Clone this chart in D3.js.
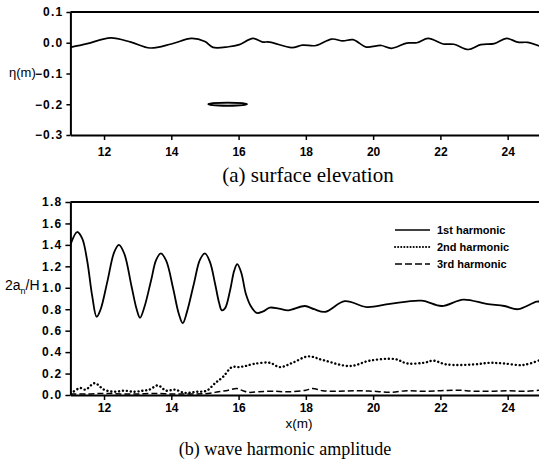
<!DOCTYPE html>
<html><head><meta charset="utf-8">
<script src="https://cdn.jsdelivr.net/npm/d3@7"></script>
<style>
html,body{margin:0;padding:0;background:#fff;}
svg{display:block;}
</style></head>
<body>
<svg id="c" width="539" height="469"></svg>
<script>
// ---- data ----
const xTicks = [12, 14, 16, 18, 20, 22, 24];
const etaTicks = [0.1, 0.0, -0.1, -0.2, -0.3];
const ampTicks = [0.0, 0.2, 0.4, 0.6, 0.8, 1.0, 1.2, 1.4, 1.6, 1.8];

const surfX = [11, 11.5, 12.2, 12.8, 13.37, 14.0, 14.6, 15.0, 15.24, 15.7, 16.0, 16.43, 16.7, 16.93, 17.58, 17.9, 18.3, 18.77, 19.1, 19.4, 19.8, 20.1, 20.25, 20.55, 21.0, 21.3, 21.64, 22.08, 22.4, 22.83, 23.2, 23.6, 23.97, 24.3, 24.6, 25];
const surfY = [-0.015, -0.003, 0.016, 0.002, -0.017, -0.004, 0.014, 0.004, -0.015, -0.013, -0.007, 0.014, 0.003, 0.002, -0.016, -0.008, -0.009, 0.012, 0.006, 0.010, -0.014, -0.010, -0.009, -0.018, -0.001, 0.000, 0.014, -0.004, -0.005, -0.022, -0.006, -0.003, 0.014, 0.002, 0.001, -0.013];

// submerged body (ellipse) : x extent and depth
const bodyX = [15.1, 16.25];
const bodyDepth = -0.2;
const bodyHalfThick = 0.005;

const h1X = [11, 11.2, 11.35, 11.5, 11.65, 11.78, 11.9, 12.1, 12.3, 12.44, 12.6, 12.82, 12.97, 13.07, 13.2, 13.4, 13.55, 13.69, 13.85, 14.05, 14.22, 14.34, 14.47, 14.68, 14.85, 15.0, 15.15, 15.3, 15.42, 15.5, 15.6, 15.75, 15.87, 15.96, 16.08, 16.22, 16.38, 16.54, 16.73, 16.93, 17.2, 17.48, 17.97, 18.25, 18.57, 19.16, 19.81, 20.5, 21.44, 22.04, 22.68, 23.37, 23.9, 24.31, 24.86, 25];
const h1Y = [1.40, 1.52, 1.46, 1.25, 0.92, 0.73, 0.80, 1.06, 1.33, 1.40, 1.32, 1.01, 0.80, 0.72, 0.82, 1.07, 1.26, 1.32, 1.25, 1.00, 0.76, 0.67, 0.78, 1.05, 1.26, 1.32, 1.24, 1.04, 0.86, 0.79, 0.81, 0.98, 1.16, 1.22, 1.14, 0.94, 0.82, 0.765, 0.78, 0.815, 0.805, 0.79, 0.83, 0.80, 0.775, 0.875, 0.82, 0.85, 0.88, 0.83, 0.89, 0.85, 0.83, 0.80, 0.87, 0.87];

const h2X = [11, 11.08, 11.29, 11.45, 11.72, 12.0, 12.3, 12.6, 12.9, 13.15, 13.35, 13.6, 13.85, 14.1, 14.4, 14.75, 15.05, 15.3, 15.54, 15.8, 16.0, 16.2, 16.45, 16.93, 17.23, 17.6, 18.07, 18.52, 19.31, 19.9, 20.65, 21.0, 21.5, 21.79, 22.18, 23.0, 23.47, 23.86, 24.46, 25];
const h2Y = [0.02, 0.03, 0.065, 0.05, 0.11, 0.05, 0.03, 0.04, 0.03, 0.04, 0.05, 0.09, 0.04, 0.05, 0.02, 0.03, 0.04, 0.11, 0.17, 0.26, 0.26, 0.27, 0.29, 0.30, 0.26, 0.30, 0.36, 0.325, 0.27, 0.32, 0.335, 0.295, 0.30, 0.32, 0.285, 0.285, 0.30, 0.295, 0.28, 0.33];

const h3X = [11, 11.5, 12, 12.5, 13, 13.5, 14, 14.5, 15, 15.4, 15.7, 15.95, 16.13, 16.3, 16.6, 17.0, 17.5, 18.0, 18.2, 18.5, 19.0, 19.5, 20.0, 20.5, 21.0, 21.5, 22.0, 22.5, 23.0, 23.5, 24.0, 24.5, 25];
const h3Y = [0.01, 0.01, 0.015, 0.01, 0.01, 0.015, 0.01, 0.01, 0.012, 0.03, 0.045, 0.06, 0.04, 0.025, 0.03, 0.035, 0.03, 0.045, 0.06, 0.04, 0.035, 0.04, 0.035, 0.025, 0.04, 0.035, 0.04, 0.045, 0.035, 0.035, 0.04, 0.035, 0.045];

const legendLabels = ["1st harmonic", "2nd harmonic", "3rd harmonic"];

// ---- drawing ----
const svg = d3.select("#c");
svg.append("rect").attr("width", 539).attr("height", 469).attr("fill", "#fff");

const FONT = "'Liberation Sans', Arial, sans-serif";
const SERIF = "'Liberation Serif', 'Times New Roman', serif";

const x = d3.scaleLinear().domain([11, 25]).range([70.4, 541.3]);
const yTop = d3.scaleLinear().domain([-0.3, 0.1]).range([135, 12]);
const yBot = d3.scaleLinear().domain([0, 1.8]).range([395, 202]);

const defs = svg.append("defs");
defs.append("clipPath").attr("id", "clipTop").append("rect")
  .attr("x", 70).attr("y", 0).attr("width", 480).attr("height", 140);
defs.append("clipPath").attr("id", "clipBot").append("rect")
  .attr("x", 70).attr("y", 190).attr("width", 480).attr("height", 206);

function styleAxis(g) {
  g.select(".domain").attr("stroke", "#000").attr("stroke-width", 2);
  g.selectAll(".tick line").attr("stroke", "#000").attr("stroke-width", 1.5);
  g.selectAll(".tick text").attr("fill", "#000")
    .attr("font-family", FONT).attr("font-weight", "bold").attr("font-size", 12);
}

// ===== top panel =====
const gxTop = svg.append("g").attr("transform", `translate(0,${yTop(-0.3)})`)
  .call(d3.axisBottom(x).tickValues(xTicks).tickFormat(d3.format("d")).tickSize(5).tickSizeOuter(0).tickPadding(7));
styleAxis(gxTop);
const gyTop = svg.append("g").attr("transform", `translate(${x(11)},0)`)
  .call(d3.axisLeft(yTop).tickValues(etaTicks).tickFormat(d3.format(".1f")).tickSize(4).tickSizeOuter(0).tickPadding(3));
styleAxis(gyTop);
gyTop.selectAll(".tick text").attr("letter-spacing", 1.2);
svg.append("line").attr("x1", x(11)).attr("x2", x(25)).attr("y1", yTop(0.1)).attr("y2", yTop(0.1))
  .attr("stroke", "#000").attr("stroke-width", 2);

const lineTop = d3.line().x(d => x(d[0])).y(d => yTop(d[1])).curve(d3.curveCatmullRom.alpha(0.5));
svg.append("path").attr("clip-path", "url(#clipTop)")
  .attr("d", lineTop(surfX.map((v, i) => [v, surfY[i]])))
  .attr("fill", "none").attr("stroke", "#000").attr("stroke-width", 1.7);

svg.append("ellipse")
  .attr("cx", x((bodyX[0] + bodyX[1]) / 2)).attr("cy", yTop(bodyDepth))
  .attr("rx", (x(bodyX[1]) - x(bodyX[0])) / 2)
  .attr("ry", yTop(bodyDepth - bodyHalfThick) - yTop(bodyDepth))
  .attr("fill", "#bbb").attr("stroke", "#000").attr("stroke-width", 1.8);

svg.append("text").attr("x", 9).attr("y", 77).attr("font-family", FONT)
  .attr("font-size", 13).text("η(m)");

svg.append("text").attr("x", 308).attr("y", 182).attr("text-anchor", "middle")
  .attr("font-family", SERIF).attr("font-size", 21).text("(a) surface elevation");

// ===== bottom panel =====
const gxBot = svg.append("g").attr("transform", `translate(0,${yBot(0)})`)
  .call(d3.axisBottom(x).tickValues(xTicks).tickFormat(d3.format("d")).tickSize(5).tickSizeOuter(0).tickPadding(3));
styleAxis(gxBot);
const gyBot = svg.append("g").attr("transform", `translate(${x(11)},0)`)
  .call(d3.axisLeft(yBot).tickValues(ampTicks).tickFormat(d3.format(".1f")).tickSize(5).tickSizeOuter(0).tickPadding(3));
styleAxis(gyBot);
gyBot.selectAll(".tick text").attr("letter-spacing", 1.2);
svg.append("line").attr("x1", x(11)).attr("x2", x(25)).attr("y1", yBot(1.8)).attr("y2", yBot(1.8))
  .attr("stroke", "#000").attr("stroke-width", 2);

const lineBot = d3.line().x(d => x(d[0])).y(d => yBot(d[1])).curve(d3.curveCatmullRom.alpha(0.5));
const series = [
  {xs: h1X, ys: h1Y, dash: null, w: 1.8, cap: "butt"},
  {xs: h2X, ys: h2Y, dash: "0.1,3.8", w: 2.4, cap: "round"},
  {xs: h3X, ys: h3Y, dash: "6,3", w: 1.5, cap: "butt"}
];
series.forEach(s => {
  svg.append("path").attr("clip-path", "url(#clipBot)")
    .attr("d", lineBot(s.xs.map((v, i) => [v, s.ys[i]])))
    .attr("fill", "none").attr("stroke", "#000").attr("stroke-width", s.w)
    .attr("stroke-linecap", s.cap)
    .attr("stroke-dasharray", s.dash);
});

// legend
const legY = [230, 247, 264];
legendLabels.forEach((lab, i) => {
  const s = series[i];
  svg.append("line").attr("x1", 395).attr("x2", 430).attr("y1", legY[i]).attr("y2", legY[i])
    .attr("stroke", "#000").attr("stroke-width", i === 1 ? 2 : 1.3)
    .attr("stroke-linecap", s.cap).attr("stroke-dasharray", i === 2 ? "7,3" : (i === 1 ? "0.1,3" : null));
  svg.append("text").attr("x", 437).attr("y", legY[i] + 4).attr("font-family", FONT)
    .attr("font-weight", "bold").attr("font-size", 11).text(lab);
});

// y label 2a_n/H
const yl = svg.append("text").attr("x", 5).attr("y", 290).attr("font-family", FONT).attr("font-size", 14);
yl.append("tspan").text("2a");
yl.append("tspan").attr("font-size", 9).attr("dy", 4).text("n");
yl.append("tspan").attr("dy", -4).text("/H");

svg.append("text").attr("x", 299).attr("y", 428).attr("text-anchor", "middle")
  .attr("font-family", FONT).attr("font-size", 13.5).text("x(m)");

svg.append("text").attr("x", 285).attr("y", 455).attr("text-anchor", "middle")
  .attr("font-family", SERIF).attr("font-size", 18).text("(b) wave harmonic amplitude");
</script>
</body></html>
